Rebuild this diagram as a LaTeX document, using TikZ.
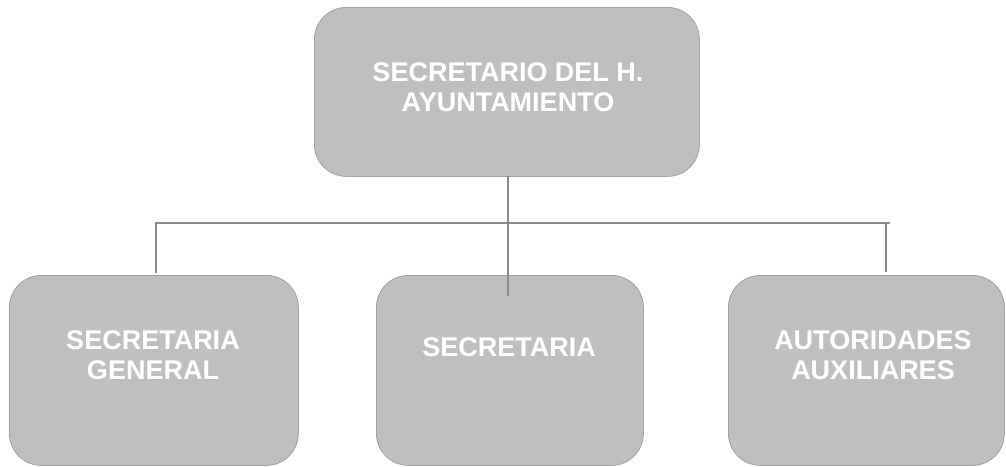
\documentclass[tikz,border=0pt]{standalone}
\usepackage{fontspec}
\setmainfont{Liberation Sans}
\begin{document}
\begin{tikzpicture}[x=1pt,y=-1pt,
  box/.style={draw=black!37,line width=0.8pt,fill=black!25,rounded corners=32pt,inner sep=0pt,anchor=north west},
  lbl/.style={text=white,font=\fontsize{27}{30}\selectfont\bfseries,align=center,inner sep=0pt},
  conn/.style={draw=black!45,line width=1.6pt}]
\useasboundingbox (0,0) rectangle (1006,466);
\node[box,minimum width=385pt,minimum height=169pt] (top) at (314,7) {};
\node[box,minimum width=289pt,minimum height=190pt] (left) at (9,275) {};
\node[box,minimum width=267pt,minimum height=190pt] (mid) at (376,275) {};
\node[box,minimum width=276pt,minimum height=190pt] (right) at (728,275) {};
\coordinate (hl) at (155,223);
\coordinate (hr) at (890,223);
\coordinate (tdrop) at (508,176);
\coordinate (mend) at (508,296);
\coordinate (lend) at (156,273);
\coordinate (rend) at (886,272);
\draw[conn] (tdrop) -- (mend);
\draw[conn] (hl) -- (hr);
\draw[conn] (hl -| lend) -- (lend);
\draw[conn] (hr -| rend) -- (rend);
\node[lbl] (ttop) at (508,87) {SECRETARIO DEL H.\\AYUNTAMIENTO};
\node[lbl] (tleft) at (153,355) {SECRETARIA\\GENERAL};
\node[lbl] (tmid) at (509,347) {SECRETARIA};
\node[lbl] (tright) at (873,355) {AUTORIDADES\\AUXILIARES};
\end{tikzpicture}
\end{document}
